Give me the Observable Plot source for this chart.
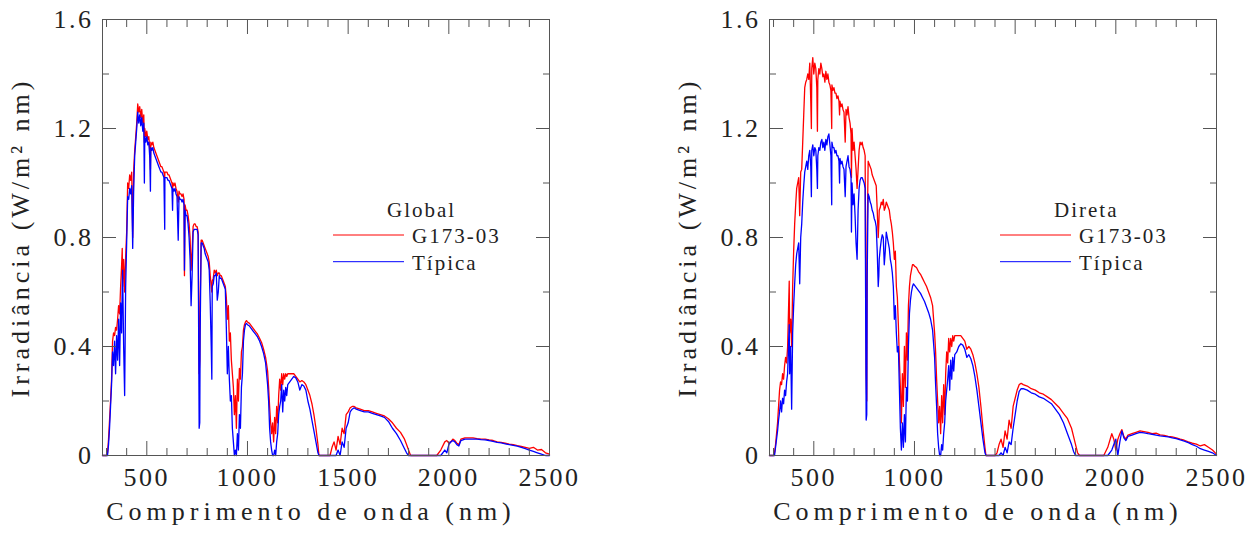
<!DOCTYPE html>
<html><head><meta charset="utf-8">
<script src="https://cdn.jsdelivr.net/npm/d3@7"></script>
<script src="https://cdn.jsdelivr.net/npm/@observablehq/plot@0.6"></script>
<style>
html,body{margin:0;padding:0;background:#fff;overflow:hidden}
#wrap{position:relative;width:1259px;height:535px}
#wrap > svg{position:absolute;top:0}
g[aria-label="x-axis label"] text {letter-spacing:5px}
g[aria-label="y-axis label"] text {letter-spacing:4px}
</style></head><body><div id="wrap"></div>
<script>
// wavelength (nm)
const wl = [280,290,300,305,310,315,320,325,330,335,
340,345,350,355,360,365,370,375,378,380,
385,390,395,400,405,410,415,420,425,430,
435,440,445,450,455,460,465,470,475,480,
485,488,490,495,500,505,510,515,518,520,
525,530,535,540,545,550,555,560,565,570,
575,580,585,589,590,595,600,605,610,615,
620,625,628,630,635,640,645,650,656,660,
665,670,675,680,685,687,690,695,700,705,
710,715,720,725,730,735,740,745,750,755,
760,763,765,770,775,780,785,790,795,800,
805,810,815,820,823,825,830,835,840,845,
850,855,860,865,870,875,880,885,890,895,
900,905,910,915,920,925,930,935,940,945,
950,955,960,965,970,975,980,985,990,995,
1000,1010,1020,1030,1040,1050,1060,1070,1080,1090,
1100,1105,1110,1115,1120,1125,1130,1135,1140,1145,
1150,1155,1160,1165,1170,1175,1180,1185,1190,1195,
1200,1210,1220,1230,1240,1250,1260,1270,1280,1290,
1300,1310,1320,1330,1340,1350,1355,1400,1410,1420,
1430,1440,1450,1460,1470,1480,1490,1500,1510,1520,
1530,1540,1560,1580,1600,1620,1640,1660,1680,1700,
1720,1740,1760,1780,1790,1800,1810,1820,1940,1960,
1980,1990,2000,2010,2020,2030,2040,2050,2060,2080,
2100,2120,2140,2160,2180,2200,2220,2240,2260,2280,
2300,2320,2340,2360,2380,2400,2420,2440,2460,2480,
2500];

// Global irradiance, G173-03 (red)
const globalG173 = [0,0,0,0.01,0.06,0.13,0.2,0.28,0.42,0.45,
0.44,0.47,0.46,0.50,0.55,0.52,0.62,0.70,0.76,0.62,
0.72,0.60,0.73,0.82,1.00,0.98,1.03,1.01,1.04,0.80,
1.05,1.12,1.17,1.22,1.29,1.26,1.28,1.24,1.27,1.22,
1.25,1.15,1.20,1.17,1.19,1.16,1.17,1.12,1.05,1.15,
1.14,1.15,1.13,1.12,1.11,1.10,1.09,1.08,1.07,1.06,
1.06,1.05,1.04,1.02,1.04,1.04,1.04,1.03,1.03,1.02,
1.01,1.00,0.98,1.00,0.99,1.00,0.98,0.97,0.93,0.97,
0.96,0.96,0.95,0.96,0.94,0.66,0.92,0.90,0.90,0.88,
0.85,0.80,0.68,0.75,0.84,0.85,0.85,0.84,0.84,0.82,
0.30,0.35,0.55,0.79,0.79,0.78,0.77,0.76,0.75,0.74,
0.73,0.71,0.66,0.62,0.60,0.64,0.65,0.68,0.67,0.68,
0.66,0.67,0.67,0.66,0.66,0.65,0.64,0.63,0.62,0.58,
0.50,0.55,0.42,0.45,0.35,0.30,0.25,0.15,0.22,0.10,
0.28,0.20,0.32,0.28,0.38,0.40,0.46,0.48,0.49,0.495,
0.49,0.485,0.475,0.465,0.455,0.445,0.43,0.415,0.39,0.36,
0.31,0.25,0.18,0.12,0.08,0.12,0.05,0.14,0.08,0.18,
0.12,0.22,0.28,0.24,0.30,0.26,0.30,0.28,0.30,0.29,
0.30,0.30,0.30,0.30,0.29,0.28,0.27,0.275,0.27,0.26,
0.24,0.22,0.19,0.15,0.10,0.04,0,0,0,0.03,
0.05,0.02,0.07,0.04,0.10,0.08,0.15,0.16,0.175,0.18,
0.18,0.175,0.17,0.165,0.165,0.16,0.155,0.15,0.145,0.135,
0.12,0.10,0.085,0.06,0.04,0.02,0,0,0,0.02,
0.05,0.055,0.045,0.05,0.06,0.055,0.045,0.04,0.06,0.065,
0.065,0.065,0.062,0.06,0.06,0.057,0.055,0.05,0.048,0.045,
0.042,0.04,0.036,0.033,0.03,0.026,0.03,0.02,0.022,0.01,
0.005];

// Global irradiance, typical (blue)
const globalTipica = [0,0,0,0,0.04,0.10,0.18,0.26,0.38,0.33,
0.42,0.30,0.44,0.35,0.50,0.33,0.56,0.45,0.62,0.68,
0.40,0.22,0.62,0.78,0.95,0.94,0.98,0.96,0.99,0.76,
0.98,1.10,1.15,1.20,1.26,1.22,1.25,1.21,1.24,1.19,
1.22,1.00,1.17,1.15,1.17,1.14,1.15,1.09,0.97,1.13,
1.12,1.13,1.11,1.10,1.09,1.08,1.07,1.06,1.05,1.04,
1.04,1.03,1.02,0.83,1.02,1.02,1.02,1.01,1.01,1.00,
0.99,0.98,0.90,0.98,0.97,0.98,0.96,0.95,0.79,0.95,
0.94,0.94,0.93,0.94,0.92,0.68,0.90,0.88,0.88,0.85,
0.80,0.72,0.55,0.66,0.82,0.83,0.83,0.83,0.83,0.81,
0.10,0.12,0.45,0.78,0.78,0.77,0.76,0.74,0.73,0.72,
0.71,0.68,0.56,0.40,0.28,0.62,0.63,0.66,0.66,0.67,
0.57,0.60,0.66,0.65,0.65,0.64,0.63,0.62,0.61,0.47,
0.30,0.40,0.28,0.20,0.22,0.10,0.05,0,0.02,0,
0.08,0.02,0.15,0.10,0.25,0.30,0.42,0.46,0.48,0.485,
0.48,0.475,0.465,0.455,0.445,0.435,0.42,0.40,0.375,0.34,
0.26,0.20,0.10,0.05,0.02,0,0,0.02,0,0.05,
0.08,0.15,0.18,0.20,0.26,0.16,0.24,0.20,0.25,0.22,
0.26,0.27,0.28,0.29,0.285,0.27,0.24,0.26,0.255,0.24,
0.20,0.17,0.13,0.09,0.05,0.01,0,0,0,0,
0,0,0.02,0,0.05,0.03,0.10,0.12,0.16,0.17,
0.175,0.17,0.165,0.16,0.16,0.155,0.15,0.145,0.14,0.125,
0.10,0.08,0.055,0.025,0.01,0,0,0,0,0,
0.02,0.01,0.04,0.05,0.055,0.05,0.04,0.035,0.055,0.06,
0.06,0.06,0.06,0.058,0.057,0.055,0.052,0.048,0.046,0.043,
0.04,0.037,0.034,0.03,0.025,0.02,0.015,0.01,0.005,0,
0];

// Direct irradiance, G173-03 (red)
const directG173 = [0,0,0,0.01,0.04,0.08,0.12,0.18,0.24,0.27,
0.26,0.30,0.28,0.33,0.36,0.34,0.40,0.55,0.64,0.45,
0.50,0.40,0.62,0.75,0.85,0.92,0.98,1.00,1.02,0.88,
1.04,1.05,1.15,1.25,1.35,1.37,1.38,1.40,1.38,1.44,
1.30,1.20,1.42,1.46,1.40,1.44,1.42,1.35,1.19,1.38,
1.42,1.40,1.44,1.42,1.39,1.40,1.37,1.41,1.38,1.40,
1.37,1.36,1.34,1.20,1.36,1.34,1.35,1.33,1.33,1.31,
1.32,1.30,1.25,1.30,1.28,1.29,1.27,1.26,1.15,1.27,
1.25,1.28,1.24,1.22,1.18,1.02,1.20,1.12,1.15,1.10,
1.05,0.98,1.05,1.12,1.15,1.14,1.15,1.13,1.12,1.10,
0.30,0.20,0.80,1.08,1.07,1.06,1.05,1.03,1.02,1.01,
1.00,0.99,0.90,0.80,0.85,0.90,0.91,0.93,0.92,0.94,
0.90,0.91,0.93,0.92,0.91,0.90,0.87,0.85,0.82,0.78,
0.72,0.75,0.62,0.58,0.48,0.35,0.25,0.12,0.30,0.18,
0.40,0.25,0.45,0.35,0.55,0.62,0.66,0.68,0.70,0.70,
0.695,0.69,0.675,0.665,0.65,0.635,0.62,0.60,0.58,0.55,
0.45,0.38,0.28,0.20,0.12,0.18,0.08,0.22,0.12,0.26,
0.15,0.30,0.38,0.34,0.43,0.38,0.43,0.40,0.44,0.42,
0.44,0.44,0.44,0.44,0.43,0.42,0.39,0.40,0.39,0.37,
0.34,0.30,0.25,0.18,0.10,0.03,0,0,0.01,0.04,
0.06,0.03,0.09,0.06,0.13,0.10,0.18,0.21,0.24,0.26,
0.265,0.26,0.255,0.245,0.24,0.23,0.225,0.215,0.205,0.19,
0.175,0.155,0.135,0.10,0.07,0.04,0.01,0,0,0.03,
0.08,0.06,0.02,0.06,0.08,0.095,0.07,0.06,0.075,0.08,
0.085,0.09,0.088,0.085,0.08,0.082,0.076,0.074,0.07,0.068,
0.065,0.06,0.056,0.05,0.045,0.042,0.035,0.04,0.03,0.02,
0.005];

// Direct irradiance, typical (blue)
const directTipica = [0,0,0,0,0.03,0.06,0.09,0.13,0.16,0.20,
0.16,0.21,0.19,0.24,0.22,0.27,0.30,0.42,0.48,0.30,
0.40,0.17,0.45,0.55,0.63,0.70,0.74,0.76,0.78,0.63,
0.80,0.85,0.93,0.99,1.04,1.06,1.08,1.05,1.10,1.12,
1.06,0.95,1.12,1.14,1.10,1.13,1.12,1.05,0.98,1.10,
1.13,1.12,1.15,1.16,1.13,1.15,1.12,1.16,1.14,1.17,
1.18,1.14,1.10,0.92,1.15,1.13,1.13,1.11,1.12,1.10,
1.10,1.08,1.00,1.09,1.07,1.08,1.06,1.05,0.95,1.06,
1.08,1.10,1.06,1.05,1.02,0.82,1.00,0.92,0.96,0.88,
0.78,0.72,0.90,0.98,1.01,1.02,1.02,1.01,1.00,0.98,
0.13,0.15,0.65,0.96,0.95,0.93,0.92,0.90,0.89,0.87,
0.86,0.84,0.75,0.62,0.66,0.72,0.76,0.79,0.81,0.80,
0.70,0.75,0.82,0.80,0.78,0.76,0.72,0.70,0.67,0.62,
0.50,0.55,0.45,0.38,0.40,0.25,0.10,0.02,0.12,0.03,
0.15,0.05,0.25,0.20,0.40,0.52,0.57,0.60,0.62,0.63,
0.625,0.615,0.605,0.595,0.58,0.565,0.545,0.525,0.50,0.46,
0.36,0.26,0.18,0.08,0.03,0,0,0.04,0.02,0.08,
0.12,0.20,0.24,0.28,0.33,0.24,0.35,0.28,0.36,0.31,
0.37,0.38,0.40,0.41,0.405,0.39,0.36,0.37,0.355,0.33,
0.29,0.24,0.18,0.12,0.06,0.01,0,0,0,0,
0.01,0,0.03,0.01,0.05,0.04,0.10,0.15,0.20,0.235,
0.245,0.245,0.24,0.23,0.225,0.215,0.21,0.20,0.19,0.17,
0.15,0.12,0.08,0.04,0.015,0,0,0,0,0,
0.02,0.04,0.06,0,0.05,0.09,0.065,0.055,0.07,0.075,
0.08,0.085,0.083,0.08,0.078,0.075,0.072,0.07,0.068,0.065,
0.062,0.057,0.053,0.047,0.04,0.034,0.025,0.02,0.015,0.01,
0];

const xMajor = [500,1000,1500,2000,2500];
const xLabels = ["500","1000","1500","2000","2500"];
const xMinor = [300,400,600,700,800,900,1100,1200,1300,1400,1600,1700,1800,1900,2100,2200,2300,2400];
const yMajor = [0,0.4,0.8,1.2,1.6];
const yLabels = ["0","0.4","0.8","1.2","1.6"];
const yMinor = [0.2,0.6,1.0,1.4];
const panelTitles = ["Global","Direta"];
const seriesNames = ["G173-03","Típica"];
const seriesColors = ["#ff0000","#0000ff"];
const xTitle = "Comprimento de onda (nm)";
const yTitle = "Irradiância (W/m² nm)";

const axisColor = "#555";

function panel(red, blue, width, marginRight) {
  const rows = wl.map((w, i) => ({w, red: red[i], blue: blue[i]}));
  const svg = Plot.plot({
    width, height: 535, marginTop: 19, marginBottom: 80, marginLeft: 102, marginRight,
    x: {type: "linear", domain: [280, 2500]},
    y: {type: "linear", domain: [0, 1.6]},
    style: {fontFamily: "'Liberation Serif', serif", fontSize: "26px", color: "#222", background: "transparent", letterSpacing: "2.5px", overflow: "visible"},
    marks: [
      Plot.line(rows, {x: "w", y: "red", stroke: seriesColors[0], strokeWidth: 1.3}),
      Plot.line(rows, {x: "w", y: "blue", stroke: seriesColors[1], strokeWidth: 1.3}),
      Plot.frame({stroke: axisColor}),
      Plot.axisX({anchor: "bottom", ticks: xMajor, tickSize: -14, fill: "none", stroke: axisColor}),
      Plot.axisX({anchor: "bottom", ticks: xMinor, tickSize: -7, fill: "none", stroke: axisColor}),
      Plot.axisX({anchor: "top", ticks: xMajor, tickSize: -14, fill: "none", stroke: axisColor}),
      Plot.axisX({anchor: "top", ticks: xMinor, tickSize: -7, fill: "none", stroke: axisColor}),
      Plot.axisY({anchor: "left", ticks: yMajor, tickSize: -14, fill: "none", stroke: axisColor}),
      Plot.axisY({anchor: "left", ticks: yMinor, tickSize: -7, fill: "none", stroke: axisColor}),
      Plot.axisY({anchor: "right", ticks: yMajor, tickSize: -14, fill: "none", stroke: axisColor}),
      Plot.axisY({anchor: "right", ticks: yMinor, tickSize: -7, fill: "none", stroke: axisColor}),
      Plot.axisX({anchor: "bottom", ticks: xMajor, tickSize: 0, tickPadding: 12,
        tickFormat: d => xLabels[xMajor.indexOf(d)], fill: "#222", label: null}),
      Plot.axisX({anchor: "bottom", ticks: [], tickSize: 0, fill: "#222",
        label: xTitle, labelAnchor: "center", labelArrow: "none", labelOffset: 64}),
      Plot.axisY({anchor: "left", ticks: yMajor, tickSize: 0, tickPadding: 9,
        tickFormat: d => yLabels[yMajor.indexOf(d)], fill: "#222",
        label: yTitle, labelAnchor: "center", labelArrow: "none", labelOffset: 92})
    ]
  });
  // nudge the x title slightly left, as in the original layout
  d3.select(svg).selectAll('g[aria-label="x-axis label"]')
    .attr("transform", function () { return (this.getAttribute("transform") || "") + " translate(-15,0)"; });
  return svg;
}

const wrap = document.getElementById("wrap");
const p1 = panel(globalG173, globalTipica, 620, 71);
p1.style.left = "0px";
wrap.appendChild(p1);
const p2 = panel(directG173, directTipica, 592, 43);
p2.style.left = "667px";
wrap.appendChild(p2);

// legend overlay
const ov = d3.select(wrap).append("svg")
  .attr("width", 1259).attr("height", 535)
  .style("position", "absolute").style("left", "0px").style("top", "0px")
  .attr("font-family", "'Liberation Serif', serif").attr("font-size", 21)
  .attr("letter-spacing", "2px").attr("fill", "#222");
panelTitles.forEach((t, k) => {
  const ox = k * 667;
  const g = ov.append("g").attr("transform", `translate(${ox},0)`);
  g.append("text").attr("x", 387).attr("y", 217).text(t);
  seriesNames.forEach((s, j) => {
    const y = 235 + j * 26.7;
    g.append("line").attr("x1", 333).attr("x2", 404).attr("y1", y).attr("y2", y)
      .attr("stroke", seriesColors[j]).attr("stroke-width", 1);
    g.append("text").attr("x", 412).attr("y", y + 8).text(s);
  });
});
</script></body></html>
